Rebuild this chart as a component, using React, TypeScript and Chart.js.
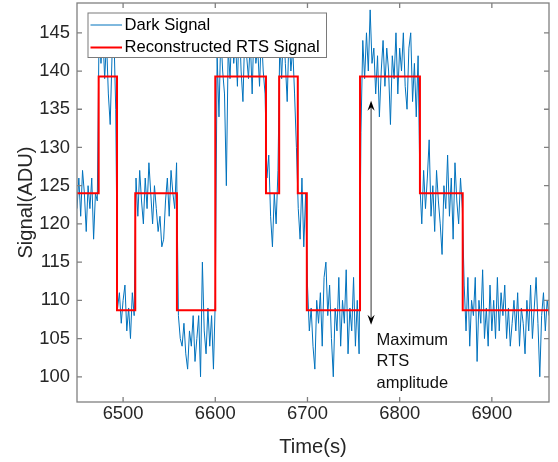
import React, { useEffect, useRef } from "react";
import { Chart, registerables } from "chart.js";

Chart.register(...registerables);

// ---- data ----
const sampleStart = 6450; // s
const sampleStep = 2; // s
const darkSignal: number[] = [
  // 6450-6472
  122, 126, 121, 127, 124, 119, 125, 122, 126, 118, 124, 123,
  // 6474-6492
  146, 141, 145, 139, 144, 137, 133, 142, 145, 135,
  // 6494-6512
  109, 111, 107, 110, 112, 106, 109, 105, 111, 108,
  // 6514-6558
  126, 121, 127, 123, 120, 126, 122, 128, 124, 120, 125, 122, 119, 121, 117, 118, 123, 126, 121, 127, 124, 122, 128,
  // 6560-6600
  108, 105, 104, 107, 103, 101, 106, 104, 108, 102, 105, 108, 100, 115, 106, 103, 109, 104, 108, 101, 110,
  // 6602-6654
  142, 134, 145, 140, 137, 125, 143, 139, 146, 141, 144, 138, 147, 140, 136, 145, 142, 139, 144, 137, 146, 141, 143, 138, 145, 140, 137,
  // 6656-6668
  126, 129, 121, 117, 124, 120, 127,
  // 6670-6688
  144, 139, 146, 141, 136, 145, 140, 143, 137, 130,
  // 6690-6698
  122, 118, 126, 117, 124,
  // 6700-6756
  112, 106, 109, 104, 101, 110, 107, 111, 104, 113, 115, 108, 112, 105, 100, 109, 106, 113, 104, 110, 107, 114, 103, 109, 106, 113, 104, 110, 103,
  // 6758-6820
  132, 144, 139, 145, 140, 148, 141, 143, 137, 142, 134, 140, 144, 138, 143, 140, 133, 142, 139, 145, 137, 143, 140, 145, 138, 135, 143, 145, 136, 141, 134, 142,
  // 6822-6868
  125, 120, 127, 122, 126, 131, 121, 125, 119, 127, 123, 120, 116, 125, 122, 129, 121, 126, 118, 128, 123, 120, 126, 122,
  // 6870-6962
  112, 106, 113, 104, 110, 108, 113, 102, 110, 107, 114, 105, 109, 104, 112, 106, 110, 105, 113, 106, 111, 108, 112, 105, 109, 104, 107, 110, 106, 111, 104, 109, 107, 103, 110, 106, 112, 105, 109, 113, 107, 100, 108, 111, 106, 110, 108,
];

const rtsTimes = [6450, 6473.5, 6493.4, 6513.2, 6558.4, 6600, 6655, 6669.3, 6689.5, 6699.3, 6757, 6822, 6868.4, 6962];
const rtsLevels = [124, 139.3, 108.7, 124, 108.7, 139.3, 124, 139.3, 124, 108.7, 139.3, 124, 108.7, 108.7];

const xTicks = [6500, 6600, 6700, 6800, 6900];
const yTicks = [100, 105, 110, 115, 120, 125, 130, 135, 140, 145];
const xMin = 6450;
const xMax = 6962;
const yMin = 96.7;
const yMax = 148.9;

const seriesLabels = ["Dark Signal", "Reconstructed RTS Signal"];
const xTitle = "Time(s)";
const yTitle = "Signal(ADU)";

const arrowX = 6769;
const arrowTopValue = 136.1;
const arrowBottomValue = 106.8;
const noteX = 6775;
const noteY = 104.8;
const noteLines = ["Maximum", "RTS", "amplitude"];

// ---- styles ----
const FONT = "'Liberation Sans', Arial, Helvetica, sans-serif";
const BLUE = "#0072BD";
const RED = "#FF0000";
const AXIS = "#808080";
const TEXT = "#262626";

function drawArrowHead(ctx: CanvasRenderingContext2D, x: number, y: number, dir: number) {
  // dir = -1 pointing up, +1 pointing down
  const L = 10;
  const W = 3.6;
  ctx.beginPath();
  ctx.moveTo(x, y);
  ctx.lineTo(x - W, y - dir * L);
  ctx.lineTo(x, y - dir * L * 0.65);
  ctx.lineTo(x + W, y - dir * L);
  ctx.closePath();
  ctx.fill();
}

const decorPlugin = {
  id: "decor",
  afterDatasetsDraw(chart: any) {
    const { ctx, chartArea: a, scales } = chart;
    const x = scales.x;
    const y = scales.y;
    ctx.save();

    // annotation arrow
    const ax = x.getPixelForValue(arrowX);
    const aTop = y.getPixelForValue(arrowTopValue);
    const aBot = y.getPixelForValue(arrowBottomValue);
    ctx.strokeStyle = "#333333";
    ctx.lineWidth = 1;
    ctx.beginPath();
    ctx.moveTo(ax, aTop + 6);
    ctx.lineTo(ax, aBot - 6);
    ctx.stroke();
    ctx.fillStyle = "#000000";
    drawArrowHead(ctx, ax, aTop, -1);
    drawArrowHead(ctx, ax, aBot, 1);

    // annotation text
    ctx.fillStyle = "#111111";
    ctx.font = `16.5px ${FONT}`;
    ctx.textAlign = "left";
    ctx.textBaseline = "middle";
    const nx = x.getPixelForValue(noteX);
    const ny = y.getPixelForValue(noteY);
    noteLines.forEach((t, i) => ctx.fillText(t, nx, ny + i * 21.7));

    // axes box
    ctx.strokeStyle = AXIS;
    ctx.lineWidth = 1.3;
    ctx.strokeRect(a.left, a.top, a.right - a.left, a.bottom - a.top);

    // inward ticks on all four sides
    const tl = 5;
    ctx.beginPath();
    xTicks.forEach((v) => {
      const px = x.getPixelForValue(v);
      ctx.moveTo(px, a.bottom);
      ctx.lineTo(px, a.bottom - tl);
      ctx.moveTo(px, a.top);
      ctx.lineTo(px, a.top + tl);
    });
    yTicks.forEach((v) => {
      const py = y.getPixelForValue(v);
      ctx.moveTo(a.left, py);
      ctx.lineTo(a.left + tl, py);
      ctx.moveTo(a.right, py);
      ctx.lineTo(a.right - tl, py);
    });
    ctx.stroke();

    // legend
    const lx = a.left + 10.5;
    const ly = a.top + 9.5;
    const lw = 239.5;
    const lh = 45.5;
    ctx.fillStyle = "#ffffff";
    ctx.fillRect(lx, ly, lw, lh);
    ctx.strokeStyle = "#7a7a7a";
    ctx.lineWidth = 1;
    ctx.strokeRect(lx + 0.5, ly + 0.5, lw - 1, lh - 1);
    const rows = [
      { color: BLUE, width: 1, label: seriesLabels[0], yy: ly + 12.5 },
      { color: RED, width: 2, label: seriesLabels[1], yy: ly + 35 },
    ];
    ctx.font = `16.6px ${FONT}`;
    ctx.textAlign = "left";
    ctx.textBaseline = "middle";
    rows.forEach((r) => {
      ctx.strokeStyle = r.color;
      ctx.lineWidth = r.width;
      ctx.beginPath();
      ctx.moveTo(lx + 3, r.yy);
      ctx.lineTo(lx + 34.5, r.yy);
      ctx.stroke();
      ctx.fillStyle = "#000000";
      ctx.fillText(r.label, lx + 37, r.yy);
    });

    ctx.restore();
  },
};

function clearPadding(s: any) {
  s.paddingTop = 0;
  s.paddingBottom = 0;
  s.paddingLeft = 0;
  s.paddingRight = 0;
}

export default function App() {
  const canvasRef = useRef<HTMLCanvasElement | null>(null);

  useEffect(() => {
    const canvas = canvasRef.current;
    if (!canvas) return;

    const darkPoints = darkSignal.map((v, i) => ({ x: sampleStart + i * sampleStep, y: v }));
    const rtsPoints = rtsTimes.map((t, i) => ({ x: t, y: rtsLevels[i] }));

    const chart = new Chart(canvas, {
      type: "line",
      data: {
        datasets: [
          {
            label: seriesLabels[1],
            data: rtsPoints,
            borderColor: RED,
            borderWidth: 2,
            pointRadius: 0,
            stepped: "before",
            fill: false,
            order: 0,
            borderJoinStyle: "miter",
          } as any,
          {
            label: seriesLabels[0],
            data: darkPoints,
            borderColor: BLUE,
            borderWidth: 1,
            pointRadius: 0,
            tension: 0,
            fill: false,
            order: 1,
          },
        ],
      },
      options: {
        animation: false,
        responsive: false,
        devicePixelRatio: 1,
        events: [],
        layout: { padding: { left: 0, right: 9, top: 3, bottom: 0 } },
        plugins: {
          legend: { display: false },
          tooltip: { enabled: false },
          title: { display: false },
        },
        scales: {
          x: {
            type: "linear",
            min: xMin,
            max: xMax,
            grid: { display: false, drawTicks: false },
            border: { display: false },
            afterBuildTicks: (s: any) => {
              s.ticks = xTicks.map((v) => ({ value: v }));
            },
            afterFit: (s: any) => {
              s.height = 60;
              clearPadding(s);
            },
            ticks: {
              autoSkip: false,
              maxRotation: 0,
              padding: 3,
              color: TEXT,
              font: { family: FONT, size: 18.4, lineHeight: 1 },
              callback: (v: any) => String(v),
            },
            title: {
              display: true,
              text: xTitle,
              color: TEXT,
              font: { family: FONT, size: 20.2, lineHeight: 1.2 },
              padding: { top: 0, bottom: 2 },
            },
          },
          y: {
            type: "linear",
            min: yMin,
            max: yMax,
            grid: { display: false, drawTicks: false },
            border: { display: false },
            afterBuildTicks: (s: any) => {
              s.ticks = yTicks.map((v) => ({ value: v }));
            },
            afterFit: (s: any) => {
              s.width = 77;
              clearPadding(s);
            },
            ticks: {
              autoSkip: false,
              padding: 7,
              color: TEXT,
              font: { family: FONT, size: 18.4 },
              callback: (v: any) => String(v),
            },
            title: {
              display: true,
              text: yTitle,
              color: TEXT,
              font: { family: FONT, size: 20.2, lineHeight: 1.2 },
              padding: { top: 14, bottom: 0 },
            },
          },
        },
      },
      plugins: [decorPlugin],
    });

    return () => chart.destroy();
  }, []);

  return (
    <div style={{ position: "fixed", left: 0, top: 0, width: 558, height: 462, background: "#ffffff" }}>
      <canvas ref={canvasRef} width={558} height={462} style={{ display: "block", width: 558, height: 462 }} />
    </div>
  );
}
